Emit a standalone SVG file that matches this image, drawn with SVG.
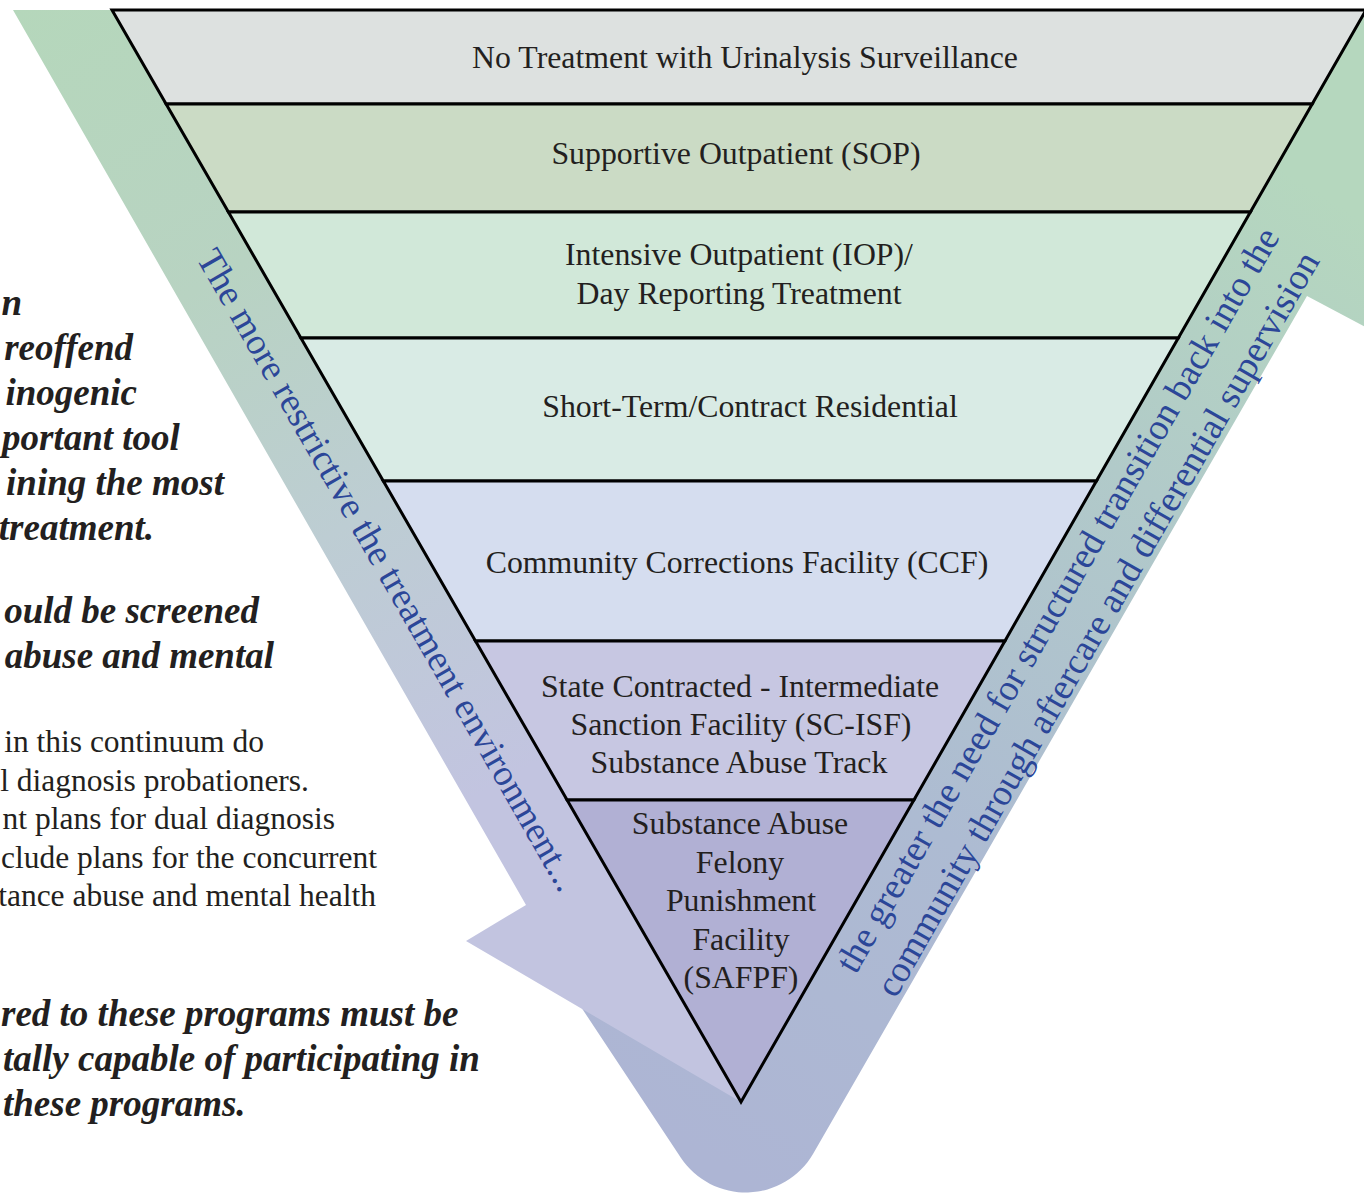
<svg xmlns="http://www.w3.org/2000/svg" width="1364" height="1194" viewBox="0 0 1364 1194">
  <defs>
    <linearGradient id="gradDown" gradientUnits="userSpaceOnUse" x1="13" y1="10" x2="560" y2="980">
      <stop offset="0" stop-color="#b5d7bb"/>
      <stop offset="0.3" stop-color="#b8d3c2"/>
      <stop offset="0.55" stop-color="#bdcdd3"/>
      <stop offset="0.82" stop-color="#c2c4e0"/>
      <stop offset="1" stop-color="#c2c4e0"/>
    </linearGradient>
    <linearGradient id="gradUp" gradientUnits="userSpaceOnUse" x1="760" y1="1190" x2="1364" y2="220">
      <stop offset="0" stop-color="#adb5d4"/>
      <stop offset="0.35" stop-color="#adbbd2"/>
      <stop offset="0.7" stop-color="#b1cac9"/>
      <stop offset="1" stop-color="#b5d7be"/>
    </linearGradient>
    <style>
      .tier { stroke: #000; stroke-width: 3; stroke-linejoin: miter; }
      .label { font-family: "Liberation Serif", "Times New Roman", serif; font-size: 31.8px; fill: #231f20; text-anchor: middle; }
      .side { font-family: "Liberation Serif", "Times New Roman", serif; font-size: 37px; fill: #2b4698; text-anchor: middle; }
      .note { font-family: "Liberation Serif", "Times New Roman", serif; font-size: 31.5px; fill: #231f20; text-anchor: end; }
      .noteb { font-family: "Liberation Serif", "Times New Roman", serif; font-size: 37px; font-weight: bold; font-style: italic; fill: #231f20; text-anchor: end; }
      .flush { text-anchor: start; }
    </style>
  </defs>

  <!-- Side notes (the column continues past the left edge) -->
  <g id="notes">
    <text class="noteb" x="22" y="315">n</text>
    <text class="noteb" x="133" y="360">reoffend</text>
    <text class="noteb" x="137" y="405">inogenic</text>
    <text class="noteb flush" x="2" y="450">portant tool</text>
    <text class="noteb" x="224" y="495">ining the most</text>
    <text class="noteb" x="154" y="540">treatment.</text>
    <text class="noteb" x="259" y="623">ould be screened</text>
    <text class="noteb" x="274" y="668">abuse and mental</text>
    <text class="note" x="264" y="752">in this continuum do</text>
    <text class="note" x="309" y="791">l diagnosis probationers.</text>
    <text class="note" x="335" y="829">nt plans for dual diagnosis</text>
    <text class="note flush" x="1" y="868">clude plans for the concurrent</text>
    <text class="note" x="376" y="906">tance abuse and mental health</text>
    <text class="noteb flush" x="1" y="1026">red to these programs must be</text>
    <text class="noteb flush" x="3" y="1071">tally capable of participating in</text>
    <text class="noteb flush" x="3" y="1116">these programs.</text>
  </g>

  <!-- Flow bands: down the left side, round the bottom and back up the right -->
  <g id="connectors">
    <path id="band-up" fill="url(#gradUp)" d="M1307,296 L1420,356 L1420,12 L1300,12 L741,1000 L600,900 L540,945 L681,1158 A78,78 0 0 0 813,1154 Z"/>
    <path id="band-down" fill="url(#gradDown)" d="M13,10 L400,10 L741,1102 L466,941 L526,905 Z"/>
  </g>

  <!-- Treatment continuum tiers -->
  <g id="tier-1">
    <polygon class="tier" fill="#dde1e0" points="112,10 1366,10 1312.2,104 166.1,104"/>
    <text class="label" x="745" y="68">No Treatment with Urinalysis Surveillance</text>
  </g>
  <g id="tier-2">
    <polygon class="tier" fill="#cbdbc5" points="166.1,104 1312.2,104 1250.4,212 228.4,212"/>
    <text class="label" x="736" y="164">Supportive Outpatient (SOP)</text>
  </g>
  <g id="tier-3">
    <polygon class="tier" fill="#d1e8d9" points="228.4,212 1250.4,212 1178.3,338 300.9,338"/>
    <text class="label" x="739" y="265">Intensive Outpatient (IOP)/</text>
    <text class="label" x="739" y="304">Day Reporting Treatment</text>
  </g>
  <g id="tier-4">
    <polygon class="tier" fill="#d9ebe5" points="300.9,338 1178.3,338 1096.4,481 383.3,481"/>
    <text class="label" x="750" y="417">Short-Term/Contract Residential</text>
  </g>
  <g id="tier-5">
    <polygon class="tier" fill="#d5ddef" points="383.3,481 1096.4,481 1004.9,641 475.5,641"/>
    <text class="label" x="737" y="573">Community Corrections Facility (CCF)</text>
  </g>
  <g id="tier-6">
    <polygon class="tier" fill="#c7c7e2" points="475.5,641 1004.9,641 913.9,800 567.1,800"/>
    <text class="label" x="740" y="697">State Contracted - Intermediate</text>
    <text class="label" x="741" y="735">Sanction Facility (SC-ISF)</text>
    <text class="label" x="739" y="773">Substance Abuse Track</text>
  </g>
  <g id="tier-7">
    <polygon class="tier" fill="#b1b0d4" points="567.1,800 913.9,800 741,1102"/>
    <text class="label" x="740" y="834">Substance Abuse</text>
    <text class="label" x="740" y="873">Felony</text>
    <text class="label" x="741" y="911">Punishment</text>
    <text class="label" x="741" y="950">Facility</text>
    <text class="label" x="741" y="988">(SAFPF)</text>
  </g>

  <!-- Band captions -->
  <g id="captions">
    <text class="side" transform="translate(378,576) rotate(60.2)" textLength="733" lengthAdjust="spacing">The more restrictive the treatment environment...</text>
    <text class="side" transform="translate(1068,606) rotate(-60.1)" textLength="852" lengthAdjust="spacing">the greater the need for structured transition back into the</text>
    <text class="side" transform="translate(1108,630) rotate(-60.1)" textLength="852" lengthAdjust="spacing">community through aftercare and differential supervision</text>
  </g>
</svg>
